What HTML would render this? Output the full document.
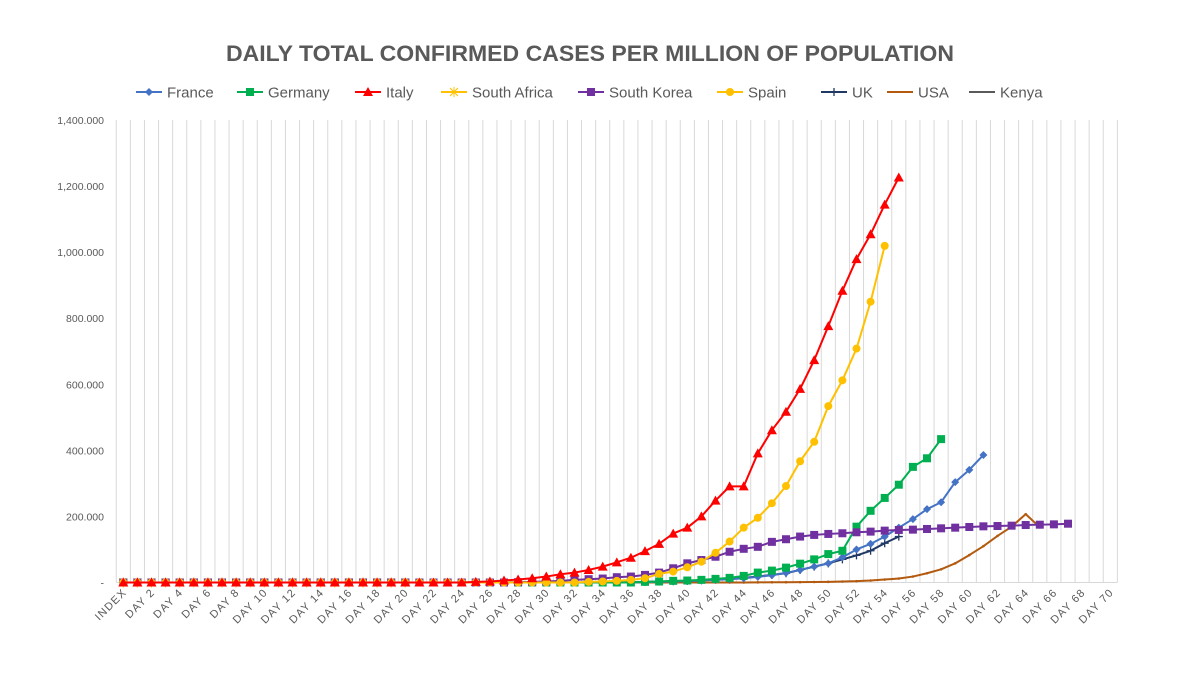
<!DOCTYPE html>
<html><head><meta charset="utf-8"><style>
body{margin:0;background:#fff;}
svg{display:block;font-family:"Liberation Sans",sans-serif;}
</style></head><body>
<svg id="chart" width="1200" height="675" viewBox="0 0 1200 675">
<text x="590" y="61" text-anchor="middle" font-size="22" font-weight="bold" fill="#595959" textLength="728" lengthAdjust="spacingAndGlyphs">DAILY TOTAL CONFIRMED CASES PER MILLION OF POPULATION</text>
<g id="grid"></g>
<g id="yaxis"></g>
<g id="xaxis"></g>
<g id="series"></g>
<g id="legend"></g>
</svg>
<script>
const yTicks = [0,200000,400000,600000,800000,1000000,1200000,1400000];
const yTickLabels = ["-","200.000","400.000","600.000","800.000","1,000.000","1,200.000","1,400.000"];
const categories = ["INDEX"].concat(Array.from({length:70},(_,k)=>"DAY "+(k+1)));
function z(n){return Array(n).fill(0);}
const franceVals = z(37).concat([1000,2000,3000,4000,6000,8000,10000,13000,17000,22000,29000,38000,48000,58000,76000,100000,117000,139000,166000,192000,222000,243000,304000,341000,386000]);
const germanyVals = z(37).concat([2000,3000,5000,6000,8000,11000,14000,20000,30000,36000,45000,57000,70000,86000,96000,169000,217000,256000,296000,350000,376000,434000]);
const italyVals = z(25).concat([2000,3000,6000,9000,13000,18000,25000,30000,38000,48000,61000,75000,95000,117000,148000,166000,200000,248000,291000,291000,391000,461000,517000,586000,673000,776000,883000,979000,1054000,1144000,1226000]);
const southAfricaVals = z(21);
const southKoreaVals = z(28).concat([1000,2000,3000,5000,8000,10000,12000,16000,18000,23000,30000,43000,58000,68000,78000,93000,102000,108000,123000,131000,139000,144000,147000,149000,152000,154000,157000,159000,160000,162000,164000,166000,168000,170000,171000,172000,174000,175000,176000,178000]);
const spainVals = z(33).concat([2000,3000,5000,8000,13000,26000,33000,46000,63000,90000,124000,166000,196000,240000,292000,367000,426000,534000,612000,708000,850000,1019000]);
const ukVals = z(36).concat([1000,2000,3000,4000,5000,7000,9000,11000,14000,18000,23000,28000,38000,48000,58000,70000,82000,96000,119000,139000]);
const usaVals = z(45).concat([500,700,900,1100,1500,2000,3000,4000,6000,9000,12000,18000,28000,40000,58000,83000,110000,141000,169000,207000,167000]);
const kenyaVals = z(21);

const NS="http://www.w3.org/2000/svg";
const X0=116.25, STEP=14.1, Y0=582.5, YTOP=120, YMAX=1400000;
function xs(i){return X0+STEP*(i+0.5);}
function ys(v){return Y0-(v/YMAX)*(Y0-YTOP);}
function mk(tag,attrs,parent){const e=document.createElementNS(NS,tag);for(const k in attrs)e.setAttribute(k,attrs[k]);parent.appendChild(e);return e;}
const grid=document.getElementById('grid');
for(let i=0;i<=categories.length;i++){
  const l=mk('line',{x1:X0+STEP*i,x2:X0+STEP*i,y1:YTOP,y2:Y0,stroke:'#d9d9d9','stroke-width':1},grid);
  
  
}
const base=mk('line',{x1:X0,x2:X0+STEP*categories.length,y1:Y0,y2:Y0,stroke:'#d9d9d9','stroke-width':1},grid);


const ya=document.getElementById('yaxis');
yTicks.forEach((v,k)=>{
  const t=mk('text',{x:104,y:ys(v)+4,'text-anchor':'end','font-size':10.5,fill:'#595959'},ya);
  t.textContent=yTickLabels[k];
  
  
});
const xa=document.getElementById('xaxis');
categories.forEach((c,i)=>{
  if(i%2)return;
  const x=xs(i)+4,y=593;
  const t=mk('text',{x:x,y:y,'text-anchor':'end','font-size':11,fill:'#595959','letter-spacing':'1.2',transform:`rotate(-45 ${x} ${y})`},xa);
  t.textContent=c;
  
  
});
function marker(type,x,y,color,g){
  let e;
  if(type==='diamond')e=mk('path',{d:`M${x} ${y-4}L${x+4} ${y}L${x} ${y+4}L${x-4} ${y}Z`,fill:color},g);
  else if(type==='square')e=mk('rect',{x:x-4,y:y-4,width:8,height:8,fill:color},g);
  else if(type==='triangle')e=mk('path',{d:`M${x} ${y-5}L${x+5} ${y+4}L${x-5} ${y+4}Z`,fill:color},g);
  else if(type==='circle')e=mk('circle',{cx:x,cy:y,r:4,fill:color},g);
  else if(type==='plus')e=mk('path',{d:`M${x-4} ${y}H${x+4}M${x} ${y-4}V${y+4}`,stroke:color,'stroke-width':1.3,fill:'none'},g);
  else if(type==='star')e=mk('path',{d:`M${x-4} ${y-4}L${x+4} ${y+4}M${x-4} ${y+4}L${x+4} ${y-4}M${x} ${y-5}V${y+5}`,stroke:color,'stroke-width':1,fill:'none'},g);
  else if(type==='small')e=mk('circle',{cx:x,cy:y,r:1.3,fill:color},g);
  if(e){}
}
const seriesDefs=[
 ['USA',usaVals,'#b35a0f','small'],
 ['Kenya',kenyaVals,'#5a5a5a',null],
 ['South Africa',southAfricaVals,'#ffc000','star'],
 ['UK',ukVals,'#203864','plus'],
 ['France',franceVals,'#4472c4','diamond'],
 ['Germany',germanyVals,'#00b050','square'],
 ['South Korea',southKoreaVals,'#7030a0','square'],
 ['Spain',spainVals,'#ffc000','circle'],
 ['Italy',italyVals,'#ff0000','triangle']
];
const sg=document.getElementById('series');
seriesDefs.forEach(([name,vals,color,m])=>{
  const g=mk('g',{},sg);
  
  
  const pts=vals.map((v,i)=>xs(i)+','+ys(v)).join(' ');
  const pl=mk('polyline',{points:pts,fill:'none',stroke:color,'stroke-width':2,'stroke-linejoin':'round'},g);
  
  
  if(m)vals.forEach((v,i)=>marker(m,xs(i),ys(v),color,g));
});
const legendItems=[['France','#4472c4','diamond',149],['Germany','#00b050','square',250],['Italy','#ff0000','triangle',368],['South Africa','#ffc000','star',454],['South Korea','#7030a0','square',591],['Spain','#ffc000','circle',730],['UK','#203864','plus',834],['USA','#b35a0f',null,900],['Kenya','#5a5a5a',null,982]];
const lg=document.getElementById('legend');
legendItems.forEach(([n,c,m,x])=>{
  const g=mk('g',{},lg);
  
  
  mk('line',{x1:x-13,x2:x+13,y1:92,y2:92,stroke:c,'stroke-width':2},g);
  if(m)marker(m,x,92,c,g);
  const t=mk('text',{x:x+18,y:97.5,'font-size':15,fill:'#595959'},g);
  t.textContent=n;
  
  
});
</script>
</body></html>
